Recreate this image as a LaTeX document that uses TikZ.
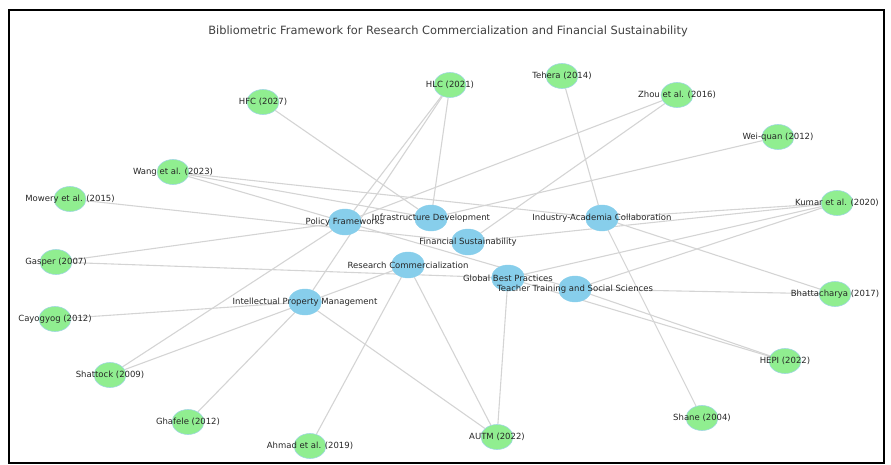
\documentclass[tikz,border=0pt]{standalone}
\usepackage{fontspec}
\setmainfont{DejaVu Sans}
\usetikzlibrary{shapes.geometric,backgrounds}
\definecolor{refgreen}{RGB}{144,238,144}
\definecolor{themeblue}{RGB}{135,206,235}
\definecolor{rimblue}{RGB}{160,215,225}
\definecolor{linkgray}{RGB}{212,212,212}

\begin{document}
\begin{tikzpicture}[
x=1pt, y=-1pt,
ref/.style={ellipse, fill=refgreen, draw=rimblue, line width=0.6pt, minimum width=32pt, minimum height=25pt, inner sep=0pt},
theme/.style={ellipse, fill=themeblue, draw=themeblue, minimum width=33pt, minimum height=26pt, inner sep=0pt},
lbl/.style={font=\fontsize{8.5}{9}\selectfont, text=black!85, inner sep=0pt},
link/.style={draw=linkgray, line width=1.1pt}
]
\useasboundingbox (0,0) rectangle (891,465);
\draw[line width=1.5pt] (9,10) rectangle (884,463);
\node[font=\fontsize{11.4}{13}\selectfont, text=black!75] (title) at (448,31) {Bibliometric Framework for Research Commercialization and Financial Sustainability};

% theme nodes
\node[theme, label={[lbl]center:Policy Frameworks}] (policy) at (345,222) {};
\node[theme, label={[lbl]center:Infrastructure Development}] (infra) at (431,218) {};
\node[theme, label={[lbl]center:Industry-Academia Collaboration}] (iac) at (602,218) {};
\node[theme, label={[lbl]center:Financial Sustainability}] (fs) at (468,242) {};
\node[theme, label={[lbl]center:Research Commercialization}] (rc) at (408,265) {};
\node[theme, label={[lbl]center:Global Best Practices}] (gbp) at (508,278) {};
\node[theme, label={[lbl]center:Teacher Training and Social Sciences}] (tt) at (575,289) {};
\node[theme, label={[lbl]center:Intellectual Property Management}] (ipm) at (305,302) {};

% reference nodes
\node[ref, label={[lbl]center:HFC (2027)}] (hfc) at (263,102) {};
\node[ref, label={[lbl]center:HLC (2021)}] (hlc) at (450,85) {};
\node[ref, label={[lbl]center:Tehera (2014)}] (tehera) at (562,76) {};
\node[ref, label={[lbl]center:Zhou et al. (2016)}] (zhou) at (677,95) {};
\node[ref, label={[lbl]center:Wei-quan (2012)}] (weiquan) at (778,137) {};
\node[ref, label={[lbl]center:Wang et al. (2023)}] (wang) at (173,172) {};
\node[ref, label={[lbl]center:Mowery et al. (2015)}] (mowery) at (70,199) {};
\node[ref, label={[lbl]center:Kumar et al. (2020)}] (kumar) at (837,203) {};
\node[ref, label={[lbl]center:Gasper (2007)}] (gasper) at (56,262) {};
\node[ref, label={[lbl]center:Bhattacharya (2017)}] (bhatt) at (835,294) {};
\node[ref, label={[lbl]center:Cayogyog (2012)}] (cayog) at (55,319) {};
\node[ref, label={[lbl]center:HEPI (2022)}] (hepi) at (785,361) {};
\node[ref, label={[lbl]center:Shattock (2009)}] (shattock) at (110,375) {};
\node[ref, label={[lbl]center:Ghafele (2012)}] (ghafele) at (188,422) {};
\node[ref, label={[lbl]center:Shane (2004)}] (shane) at (702,418) {};
\node[ref, label={[lbl]center:Ahmad et al. (2019)}] (ahmad) at (310,446) {};
\node[ref, label={[lbl]center:AUTM (2022)}] (autm) at (497,437) {};

% links
\begin{scope}[on background layer]
\draw[link] (hfc) -- (infra);
\draw[link] (hlc) -- (policy);
\draw[link] (hlc) -- (ipm);
\draw[link] (hlc) -- (infra);
\draw[link] (tehera) -- (iac);
\draw[link] (zhou) -- (policy);
\draw[link] (zhou) -- (fs);
\draw[link] (weiquan) -- (infra);
\draw[link] (wang) -- (iac);
\draw[link] (wang) -- (infra);
\draw[link] (wang) -- (tt);
\draw[link] (mowery) -- (fs);
\draw[link] (kumar) -- (iac);
\draw[link] (kumar) -- (fs);
\draw[link] (kumar) -- (gbp);
\draw[link] (kumar) -- (tt);
\draw[link] (gasper) -- (policy);
\draw[link] (gasper) -- (gbp);
\draw[link] (bhatt) -- (iac);
\draw[link] (bhatt) -- (tt);
\draw[link] (cayog) -- (ipm);
\draw[link] (hepi) -- (tt);
\draw[link] (hepi) -- (gbp);
\draw[link] (shattock) -- (policy);
\draw[link] (shattock) -- (rc);
\draw[link] (ghafele) -- (ipm);
\draw[link] (shane) -- (iac);
\draw[link] (ahmad) -- (rc);
\draw[link] (autm) -- (ipm);
\draw[link] (autm) -- (rc);
\draw[link] (autm) -- (gbp);
\end{scope}
\end{tikzpicture}
\end{document}
